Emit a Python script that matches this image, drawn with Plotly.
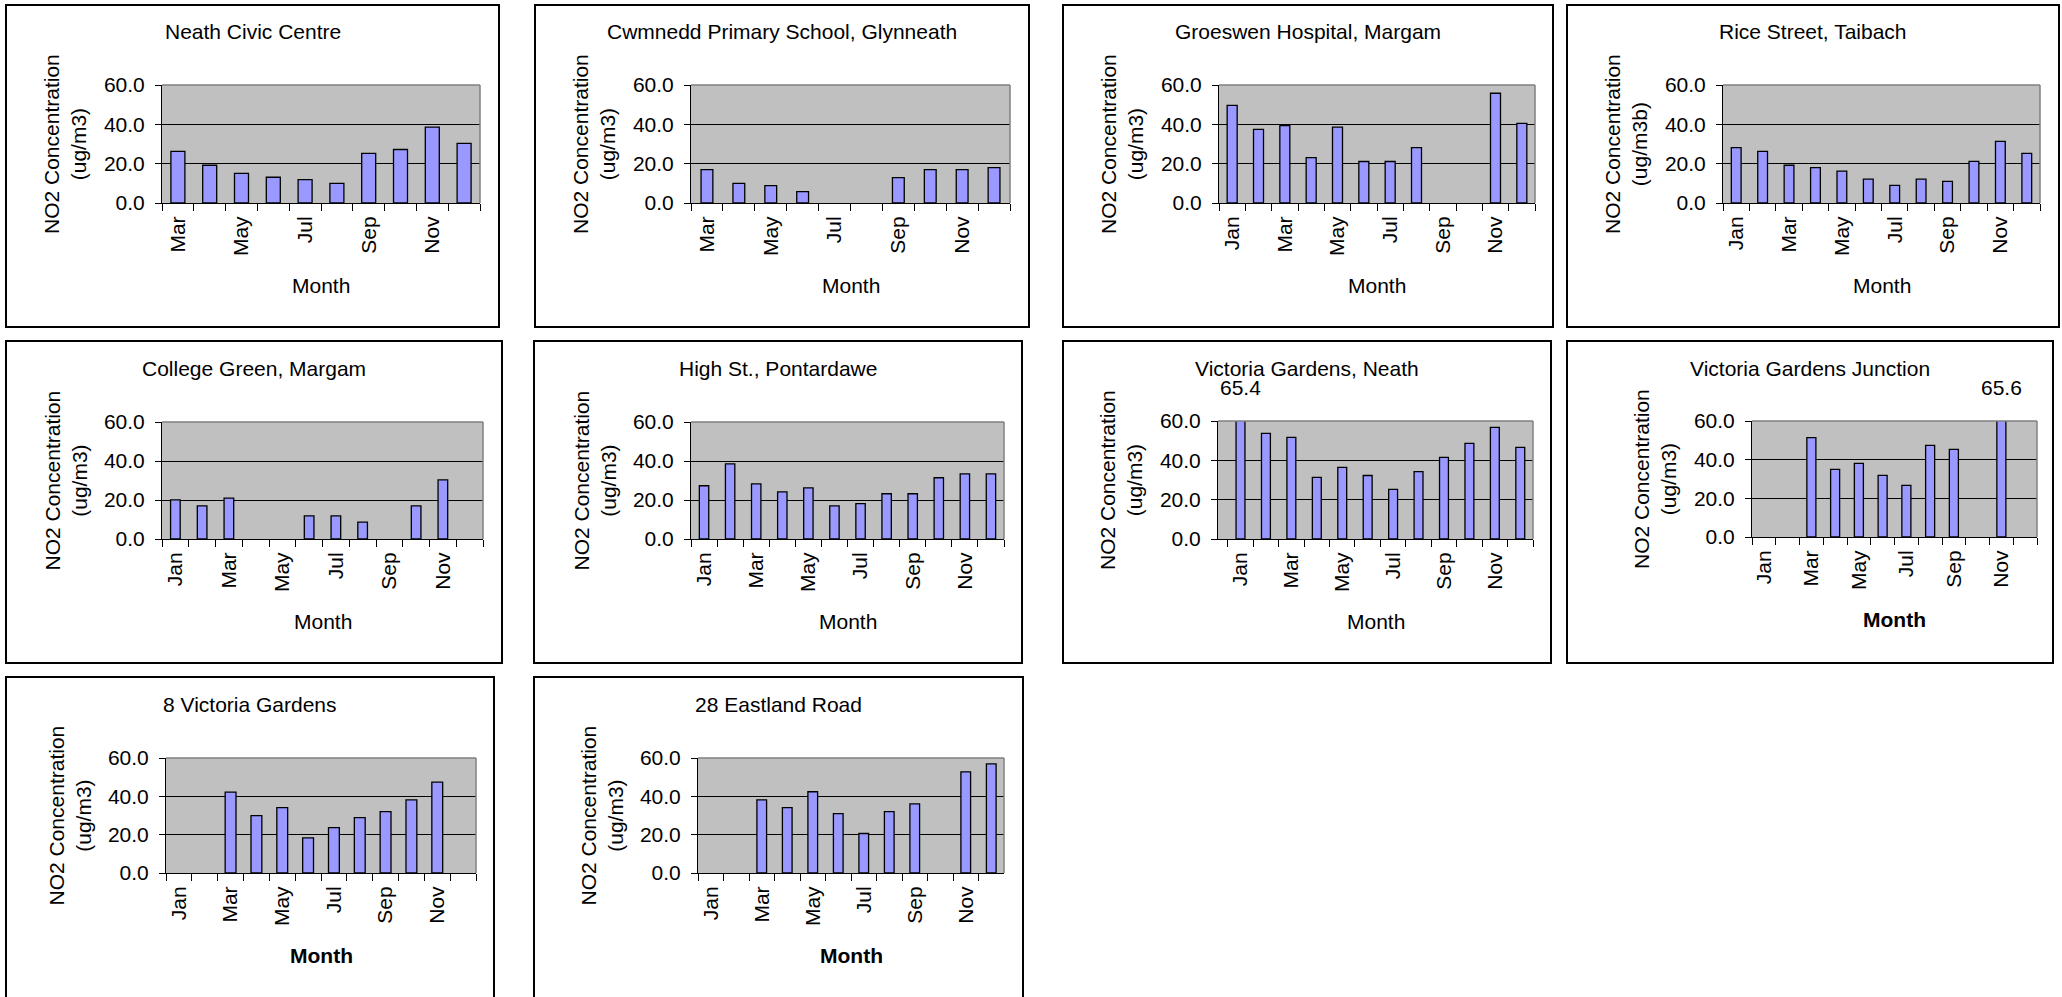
import plotly.graph_objects as go

W, H = 2062, 997

# ---------------- data ----------------
months_mar_dec = ["Mar", "Apr", "May", "Jun", "Jul", "Aug", "Sep", "Oct", "Nov", "Dec"]
months_jan_dec = ["Jan", "Feb", "Mar", "Apr", "May", "Jun", "Jul", "Aug", "Sep", "Oct", "Nov", "Dec"]
shown_labels = ["Jan", "Mar", "May", "Jul", "Sep", "Nov"]

site_titles = [
    "Neath Civic Centre",
    "Cwmnedd Primary School, Glynneath",
    "Groeswen Hospital, Margam",
    "Rice Street, Taibach",
    "College Green, Margam",
    "High St., Pontardawe",
    "Victoria Gardens, Neath",
    "Victoria Gardens Junction",
    "8 Victoria Gardens",
    "28 Eastland Road",
]
y_titles = ["NO2 Concentration<br>(ug/m3)"] * 10
y_titles[3] = "NO2 Concentration<br>(ug/m3b)"
x_title = "Month"

neath_civic = [26.2, 19.2, 15.1, 13.1, 11.9, 10.0, 25.2, 27.2, 38.6, 30.3]
cwmnedd = [17.0, 10.0, 8.8, 5.8, None, None, 12.9, 17.0, 17.0, 18.0]
groeswen = [49.6, 37.4, 39.3, 23.1, 38.6, 21.1, 21.1, 28.2, None, None, 55.8, 40.5]
rice_street = [28.2, 26.2, 19.2, 18.0, 16.2, 12.1, 9.0, 12.1, 11.0, 21.2, 31.3, 25.2]
college_green = [20.1, 17.0, 21.0, None, None, 11.9, 11.9, 8.7, None, 17.0, 30.3, None]
high_st = [27.3, 38.5, 28.3, 24.2, 26.2, 17.0, 18.1, 23.2, 23.2, 31.4, 33.4, 33.4]
victoria_neath = [65.4, 53.7, 51.7, 31.3, 36.4, 32.3, 25.2, 34.3, 41.5, 48.6, 56.8, 46.6]
victoria_junction = [None, None, 51.4, 35.0, 38.1, 31.9, 26.7, 47.4, 45.3, None, 65.6, None]
victoria_8 = [None, None, 42.2, 29.9, 34.1, 18.3, 23.7, 28.9, 32.0, 38.2, 47.4, None]
eastland_28 = [None, None, 38.2, 34.1, 42.4, 31.0, 20.6, 32.0, 36.1, None, 52.8, 56.9]

y_ticks = [0, 20, 40, 60]

series = [neath_civic, cwmnedd, groeswen, rice_street, college_green,
          high_st, victoria_neath, victoria_junction, victoria_8, eastland_28]
cats = [months_mar_dec, months_mar_dec] + [months_jan_dec] * 8

# ---------------- layout (pixel geometry) ----------------
boxes = [
    (6, 5, 499, 327), (535, 5, 1029, 327), (1063, 5, 1553, 327), (1567, 5, 2059, 327),
    (6, 341, 502, 663), (534, 341, 1022, 663), (1063, 341, 1551, 663), (1567, 341, 2053, 663),
    (6, 677, 494, 1010), (534, 677, 1023, 1010),
]
plots = [
    (162, 85, 480, 203), (691, 85, 1010, 203), (1219, 85, 1535, 203), (1723, 85, 2040, 203),
    (162, 422, 483, 539), (691, 422, 1004, 539), (1218, 421, 1533, 539), (1752, 421, 2037, 537),
    (166, 758, 476, 873), (698, 758, 1004, 873),
]
bar_widths = [0.44, 0.37, 0.38, 0.37, 0.36, 0.36, 0.35, 0.38, 0.42, 0.38]
bold_month = [False] * 7 + [True] * 3

FONT = "Liberation Sans, Arial, sans-serif"
FS = 21

def px(x):
    return x / W

def py(y):
    return 1 - y / H

fig = go.Figure()
annotations = []
shapes = []

for i in range(10):
    n = i + 1
    xa = "x" if n == 1 else f"x{n}"
    ya = "y" if n == 1 else f"y{n}"
    c = cats[i]
    v = series[i]
    fig.add_trace(go.Bar(
        x=c, y=v, xaxis=xa, yaxis=ya, width=bar_widths[i],
        marker=dict(color="#9999FF", line=dict(color="#000000", width=1.3)),
        showlegend=False, hoverinfo="x+y",
    ))
    pl, pt, pr, pb = plots[i]
    bl, bt, br, bb = boxes[i]
    ticktext = [m if m in shown_labels else "" for m in c]
    xkey = "xaxis" if n == 1 else f"xaxis{n}"
    ykey = "yaxis" if n == 1 else f"yaxis{n}"
    fig.update_layout(**{
        xkey: dict(
            domain=[px(pl), px(pr)], anchor=ya, type="category",
            categoryorder="array", categoryarray=c,
            tickmode="array", tickvals=c, ticktext=ticktext,
            tickson="boundaries", ticks="outside", ticklen=7, tickcolor="#000",
            tickwidth=1, tickangle=-90, ticklabelstandoff=4, automargin=False,
            showline=True, linecolor="#000", linewidth=1, showgrid=False,
            tickfont=dict(family=FONT, size=FS, color="#000"), fixedrange=True,
        ),
        ykey: dict(
            domain=[py(pb), py(pt)], anchor=xa, range=[0, 60],
            tickmode="array", tickvals=y_ticks, tickformat=".1f",
            ticks="outside", ticklen=6, tickcolor="#000", tickwidth=1,
            ticklabelstandoff=6, automargin=False,
            showline=True, linecolor="#000", linewidth=1,
            showgrid=True, gridcolor="#000", gridwidth=1, zeroline=False,
            tickfont=dict(family=FONT, size=FS, color="#000"), fixedrange=True,
        ),
    })
    # panel frame
    shapes.append(dict(type="rect", xref="paper", yref="paper",
                       x0=px(bl), x1=px(br), y0=py(bb), y1=py(bt),
                       line=dict(color="#000", width=2), layer="above"))
    # grey top/right edges of the plot area
    shapes.append(dict(type="line", xref="paper", yref="paper",
                       x0=px(pl), x1=px(pr), y0=py(pt), y1=py(pt),
                       line=dict(color="#808080", width=1.5), layer="above"))
    shapes.append(dict(type="line", xref="paper", yref="paper",
                       x0=px(pr), x1=px(pr), y0=py(pt), y1=py(pb),
                       line=dict(color="#808080", width=1.5), layer="above"))
    # panel title
    annotations.append(dict(text=site_titles[i], xref="paper", yref="paper",
                            x=px((bl + br) / 2), y=py(bt + 27), showarrow=False,
                            xanchor="center", yanchor="middle",
                            font=dict(family=FONT, size=FS, color="#000")))
    # y-axis title
    annotations.append(dict(text=y_titles[i], xref="paper", yref="paper",
                            x=px(pl - 97), y=py((pt + pb) / 2), showarrow=False,
                            textangle=-90, xanchor="center", yanchor="middle",
                            font=dict(family=FONT, size=FS, color="#000")))
    # x-axis title
    annotations.append(dict(text=f"<b>{x_title}</b>" if bold_month[i] else x_title,
                            xref="paper", yref="paper",
                            x=px((pl + pr) / 2), y=py(pb + 82), showarrow=False,
                            xanchor="center", yanchor="middle",
                            font=dict(family=FONT, size=FS, color="#000")))
    # value labels for bars beyond the axis maximum
    for m, val in zip(c, v):
        if val is not None and val > 60:
            annotations.append(dict(text=f"{val:.1f}", xref=xa, yref="paper",
                                    x=m, y=py(pt - 33), showarrow=False,
                                    xanchor="center", yanchor="middle",
                                    font=dict(family=FONT, size=FS, color="#000")))

fig.update_layout(
    width=W, height=H, autosize=False,
    margin=dict(l=0, r=0, t=0, b=0, pad=0),
    paper_bgcolor="#FFFFFF", plot_bgcolor="#C0C0C0",
    annotations=annotations, shapes=shapes, showlegend=False,
    font=dict(family=FONT, size=FS, color="#000"),
)

fig.write_html(
    "out.html",
    config={"displayModeBar": False},
    post_script="document.body.style.margin='0px';document.body.style.overflow='hidden';",
)
